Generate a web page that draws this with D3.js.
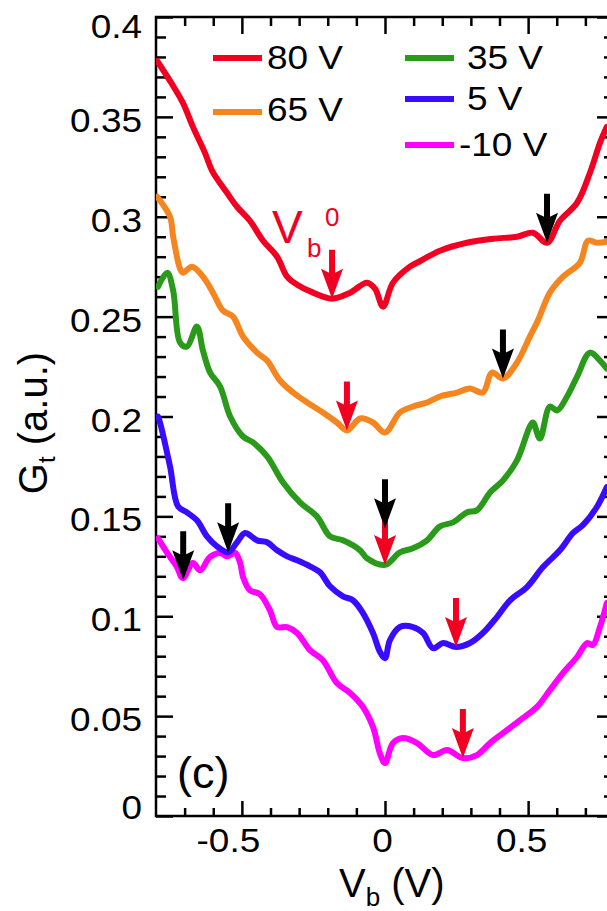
<!DOCTYPE html>
<html>
<head>
<meta charset="utf-8">
<script src="https://cdn.jsdelivr.net/npm/d3@7"></script>
<style>
body { margin: 0; background: #fff; }
text { font-family: "Liberation Sans", Arial, Helvetica, sans-serif; }
</style>
</head>
<body>
<div id="chart"></div>
<script>
// gate voltage curves, [Vb, Gt]
var curve80 = [[-0.796,0.378],[-0.751,0.368],[-0.706,0.357],[-0.671,0.345],[-0.629,0.332],[-0.604,0.323],[-0.552,0.312],[-0.517,0.305],[-0.472,0.298],[-0.426,0.288],[-0.377,0.280],[-0.342,0.270],[-0.307,0.266],[-0.251,0.262],[-0.185,0.259],[-0.122,0.262],[-0.063,0.267],[-0.035,0.264],[-0.007,0.255],[0.028,0.267],[0.087,0.275],[0.112,0.277],[0.192,0.283],[0.286,0.287],[0.377,0.289],[0.461,0.290],[0.517,0.292],[0.566,0.287],[0.611,0.298],[0.671,0.307],[0.716,0.322],[0.751,0.337],[0.775,0.345]];
var curve65 = [[-0.796,0.310],[-0.751,0.300],[-0.740,0.290],[-0.716,0.274],[-0.706,0.272],[-0.674,0.275],[-0.636,0.270],[-0.601,0.262],[-0.566,0.253],[-0.531,0.250],[-0.496,0.240],[-0.447,0.232],[-0.412,0.228],[-0.367,0.218],[-0.321,0.212],[-0.272,0.207],[-0.217,0.202],[-0.168,0.197],[-0.133,0.193],[-0.087,0.199],[-0.042,0.197],[0,0.192],[0.052,0.202],[0.098,0.205],[0.147,0.207],[0.192,0.210],[0.251,0.212],[0.297,0.214],[0.342,0.212],[0.374,0.222],[0.412,0.219],[0.461,0.227],[0.506,0.240],[0.534,0.248],[0.576,0.262],[0.622,0.270],[0.681,0.277],[0.709,0.288],[0.740,0.287],[0.775,0.2875]];
var curve35 = [[-0.793,0.265],[-0.761,0.272],[-0.740,0.263],[-0.716,0.237],[-0.692,0.235],[-0.657,0.245],[-0.636,0.233],[-0.611,0.222],[-0.576,0.215],[-0.541,0.200],[-0.496,0.190],[-0.461,0.187],[-0.412,0.180],[-0.356,0.167],[-0.297,0.157],[-0.238,0.150],[-0.192,0.140],[-0.147,0.138],[-0.087,0.133],[-0.063,0.129],[0,0.1257],[0.052,0.132],[0.098,0.134],[0.147,0.138],[0.192,0.145],[0.238,0.147],[0.286,0.152],[0.321,0.153],[0.367,0.162],[0.412,0.168],[0.461,0.178],[0.506,0.195],[0.517,0.197],[0.541,0.189],[0.576,0.205],[0.601,0.203],[0.636,0.210],[0.671,0.220],[0.716,0.232],[0.751,0.228],[0.775,0.224]];
var curve5 = [[-0.793,0.200],[-0.786,0.197],[-0.751,0.175],[-0.723,0.155],[-0.692,0.152],[-0.657,0.148],[-0.622,0.140],[-0.587,0.135],[-0.548,0.132],[-0.517,0.137],[-0.489,0.1417],[-0.447,0.138],[-0.412,0.137],[-0.377,0.133],[-0.342,0.130],[-0.307,0.128],[-0.262,0.125],[-0.227,0.122],[-0.192,0.115],[-0.147,0.110],[-0.112,0.108],[-0.077,0.1016],[-0.042,0.0916],[-0.017,0.082],[0,0.079],[0.017,0.088],[0.052,0.0946],[0.098,0.0946],[0.133,0.0916],[0.168,0.084],[0.203,0.0866],[0.248,0.0846],[0.297,0.0866],[0.342,0.0916],[0.391,0.0996],[0.437,0.108],[0.496,0.1146],[0.552,0.1246],[0.611,0.133],[0.657,0.1417],[0.692,0.1457],[0.740,0.1547],[0.775,0.1647]];
var curveM10 = [[-0.793,0.139],[-0.761,0.1317],[-0.727,0.1247],[-0.706,0.119],[-0.671,0.1267],[-0.646,0.123],[-0.611,0.1297],[-0.576,0.1317],[-0.552,0.130],[-0.524,0.1317],[-0.506,0.1267],[-0.496,0.1197],[-0.472,0.113],[-0.437,0.111],[-0.402,0.103],[-0.377,0.0946],[-0.342,0.0946],[-0.307,0.0916],[-0.262,0.083],[-0.217,0.078],[-0.168,0.0666],[-0.122,0.0616],[-0.077,0.0546],[-0.042,0.0446],[-0.017,0.031],[0,0.0265],[0.028,0.0365],[0.063,0.039],[0.112,0.0365],[0.168,0.0305],[0.217,0.033],[0.272,0.029],[0.321,0.0305],[0.367,0.0365],[0.412,0.0415],[0.472,0.048],[0.531,0.0546],[0.576,0.063],[0.622,0.0716],[0.671,0.0796],[0.706,0.0866],[0.726,0.0856],[0.751,0.0946],[0.775,0.1066]];

var seriesNames = ["80 V", "65 V", "35 V", "5 V", "-10 V"];
var seriesColors = ["#f20022", "#f5861f", "#2a9a1a", "#3a0cff", "#ff00ff"];

// arrow tips [Vb, Gt]
var redArrows = [[-0.185,0.259],[-0.133,0.193],[0,0.1257],[0.248,0.0846],[0.272,0.029]];
var blackArrows = [[0.566,0.287],[0.412,0.219],[0,0.144],[-0.548,0.132],[-0.705,0.118]];

var xTickLabels = [-0.5, 0, 0.5];
var yTickLabels = [0, 0.05, 0.1, 0.15, 0.2, 0.25, 0.3, 0.35, 0.4];

var W = 607, H = 911, SX = 1.12;
var svg = d3.select("#chart").append("svg")
    .attr("width", W)
    .attr("height", H);

var x = d3.scaleLinear().domain([-0.8, 0.8]).range([156, 614]);
var y = d3.scaleLinear().domain([0, 0.4]).range([816, 17]);

var xMinor = d3.range(-7, 8).map(function(d){return d / 10;}).filter(function(d){return Math.abs(d * 2 - Math.round(d * 2)) > 1e-6;});
var yMinor = d3.range(1, 40).map(function(d){return d / 100;}).filter(function(d){return Math.round(d * 100) % 5 !== 0;});

svg.append("clipPath").attr("id", "plot-clip")
    .append("rect").attr("x", 156).attr("y", 17).attr("width", 458).attr("height", 799);

function addAxis(axis, tx, ty) {
    var g = svg.append("g")
        .attr("transform", "translate(" + tx + "," + ty + ")")
        .call(axis);
    g.select(".domain").remove();
    g.selectAll("line").attr("stroke", "#000").attr("stroke-width", 2.5);
    g.attr("font-family", null).attr("font-size", 33);
    return g;
}

// left
var left = addAxis(d3.axisLeft(y).tickValues(yTickLabels).tickSize(-17).tickPadding(14).tickFormat(function(d){return String(d);}), 156, 0);
left.selectAll("text")
    .attr("x", -14 / SX)
    .attr("y", function(d){ return d === 0.4 ? 10 : (d === 0 ? -8 : 4); })
    .attr("transform", "scale(" + SX + ",1)")
    .attr("fill", "#000");
addAxis(d3.axisLeft(y).tickValues(yMinor).tickSize(-10).tickFormat(""), 156, 0);
// right
addAxis(d3.axisRight(y).tickValues(yTickLabels).tickSize(-17).tickFormat(""), 614, 0);
addAxis(d3.axisRight(y).tickValues(yMinor).tickSize(-10).tickFormat(""), 614, 0);
// top
addAxis(d3.axisTop(x).tickValues(xTickLabels).tickSize(-17).tickFormat(""), 0, 17);
addAxis(d3.axisTop(x).tickValues(xMinor).tickSize(-9).tickFormat(""), 0, 17);
// bottom
var bottom = addAxis(d3.axisBottom(x).tickValues(xTickLabels).tickSize(-15).tickFormat(function(d){return String(d);}), 0, 816);
bottom.selectAll("text")
    .attr("y", 36)
    .attr("dy", null)
    .attr("x", function(d){ return (d < 0 ? -14 : (d === 0 ? -3 : -7)) / SX; })
    .attr("transform", "scale(" + SX + ",1)")
    .attr("fill", "#000");
addAxis(d3.axisBottom(x).tickValues(xMinor).tickSize(-8).tickFormat(""), 0, 816);

// frame
svg.append("rect")
    .attr("x", 156).attr("y", 17)
    .attr("width", 458).attr("height", 799)
    .attr("fill", "none")
    .attr("stroke", "#000")
    .attr("stroke-width", 2.5);

// curves
var line = d3.line()
    .x(function(d){return x(d[0]);})
    .y(function(d){return y(d[1]);})
    .curve(d3.curveCatmullRom.alpha(0.5));

var curves = [curve80, curve65, curve35, curve5, curveM10];
var plot = svg.append("g").attr("clip-path", "url(#plot-clip)");
for (var i = curves.length - 1; i >= 0; i--) {
    plot.append("path")
        .datum(curves[i])
        .attr("d", line)
        .attr("fill", "none")
        .attr("stroke", seriesColors[i])
        .attr("stroke-width", 6)
        .attr("stroke-linejoin", "round")
        .attr("stroke-linecap", "round");
}

// arrows
function arrowPath(d) {
    var tx = x(d[0]), ty = y(d[1]);
    return "M" + (tx - 3) + "," + (ty - 49) +
        "L" + (tx + 3) + "," + (ty - 49) +
        "L" + (tx + 3) + "," + (ty - 26) +
        "L" + (tx + 11) + "," + (ty - 30) +
        "L" + tx + "," + ty +
        "L" + (tx - 11) + "," + (ty - 30) +
        "L" + (tx - 3) + "," + (ty - 26) + "Z";
}
svg.selectAll(".red-arrow").data(redArrows).enter().append("path")
    .attr("class", "red-arrow")
    .attr("d", arrowPath)
    .attr("fill", seriesColors[0]);
svg.selectAll(".black-arrow").data(blackArrows).enter().append("path")
    .attr("class", "black-arrow")
    .attr("d", arrowPath)
    .attr("fill", "#000");

// legend
var legendPos = [
    {x1: 213, x2: 262, ly: 58, tx: 267, ty: 69},
    {x1: 213, x2: 262, ly: 112, tx: 267, ty: 121},
    {x1: 405, x2: 454, ly: 58, tx: 467, ty: 69},
    {x1: 405, x2: 454, ly: 99, tx: 467, ty: 110},
    {x1: 405, x2: 454, ly: 145, tx: 459, ty: 156}
];
seriesNames.forEach(function(name, i) {
    var p = legendPos[i];
    svg.append("line")
        .attr("x1", p.x1).attr("x2", p.x2)
        .attr("y1", p.ly).attr("y2", p.ly)
        .attr("stroke", seriesColors[i])
        .attr("stroke-width", 6);
    svg.append("text")
        .attr("transform", "translate(" + p.tx + "," + p.ty + ") scale(" + SX + ",1)")
        .attr("font-size", 33)
        .attr("fill", "#000")
        .text(name);
});

// Vb0 label
var vb0 = svg.append("text").attr("fill", seriesColors[0]);
vb0.append("tspan").attr("x", 272).attr("y", 243).attr("font-size", 46).text("V");
vb0.append("tspan").attr("x", 307).attr("y", 257).attr("font-size", 26).text("b");
vb0.append("tspan").attr("x", 325).attr("y", 226).attr("font-size", 26).text("0");

// panel label
svg.append("text")
    .attr("x", 177).attr("y", 788)
    .attr("font-size", 45)
    .attr("fill", "#000")
    .text("(c)");

// axis titles
var xt = svg.append("text").attr("x", 339).attr("y", 897).attr("font-size", 40).attr("fill", "#000");
xt.append("tspan").text("V");
xt.append("tspan").attr("font-size", 26).attr("dy", 9).text("b");
xt.append("tspan").attr("dy", -9).text(" (V)");

var yt = svg.append("text")
    .attr("transform", "translate(47,423) rotate(-90)")
    .attr("text-anchor", "middle")
    .attr("font-size", 40)
    .attr("fill", "#000");
yt.append("tspan").text("G");
yt.append("tspan").attr("font-size", 24).attr("dy", 8).text("t");
yt.append("tspan").attr("dy", -8).text(" (a.u.)");
</script>
</body>
</html>
